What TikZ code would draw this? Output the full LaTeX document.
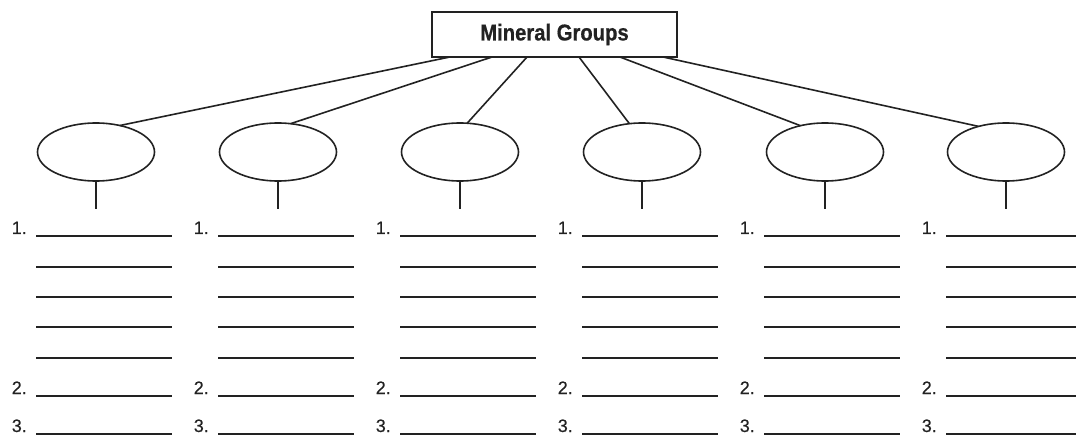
\documentclass[tikz,border=0pt]{standalone}
\usepackage{fontspec}
\setmainfont{Liberation Sans}
\newfontfamily\titlefont[FakeStretch=0.88,FakeBold=0.6]{Liberation Sans}
\newfontfamily\numfont[FakeBold=0.3]{Liberation Sans}
\usetikzlibrary{shapes.geometric,calc}
\definecolor{ink}{HTML}{222222}
\begin{document}
\begin{tikzpicture}[x=1pt,y=-1pt,
  ink line/.style={draw=ink,line width=1.6pt},
  titlebox/.style={ink line,rectangle,minimum width=245pt,minimum height=45pt,inner sep=0pt,outer sep=0pt,font=\titlefont\bfseries\fontsize{23}{25}\selectfont,text=ink},
  groupoval/.style={ink line,ellipse,minimum width=117pt,minimum height=58pt,inner sep=0pt,outer sep=0pt},
  numlabel/.style={anchor=base east,inner sep=0pt,text=ink,font=\numfont\fontsize{18}{20}\selectfont},
  underline/.style={draw=ink,line width=1.6pt}]
\useasboundingbox (0,0) rectangle (1076,438);
\node[titlebox] (t) at (554.5,34.5) {Mineral Groups};
% ovals
\foreach \i/\cx in {1/96,2/278,3/460,4/642,5/825,6/1006}{
  \node[groupoval] (e\i) at (\cx,152) {};
  \coordinate (b\i) at (\cx,209);
  \draw[ink line] (e\i.south) -- (b\i);
}
% start points on title box
\foreach \i/\f in {1/0.073,2/0.245,3/0.388,4/0.600,5/0.767,6/0.943}{
  \coordinate (s\i) at ($(t.south west)!\f!(t.south east)$);
}
\draw[ink line] (s1) -- (e1.48);
\draw[ink line] (s2) -- (e2.66);
\draw[ink line] (s3) -- (e3.76);
\draw[ink line] (s4) -- (e4.114);
\draw[ink line] (s5) -- (e5.133);
\draw[ink line] (s6) -- (e6.137);
% answer lines
\foreach \k in {0,...,5}{
  \pgfmathsetmacro{\cx}{96+182*\k}
  \foreach \y in {236,267,297,327,358,396,434}{
    \draw[underline] (\cx-60,\y) -- (\cx+76,\y);
  }
  \node[numlabel] (n1-\k) at (\cx-69,234) {1.};
  \node[numlabel] (n2-\k) at (\cx-69,394) {2.};
  \node[numlabel] (n3-\k) at (\cx-69,432) {3.};
}
\end{tikzpicture}
\end{document}
